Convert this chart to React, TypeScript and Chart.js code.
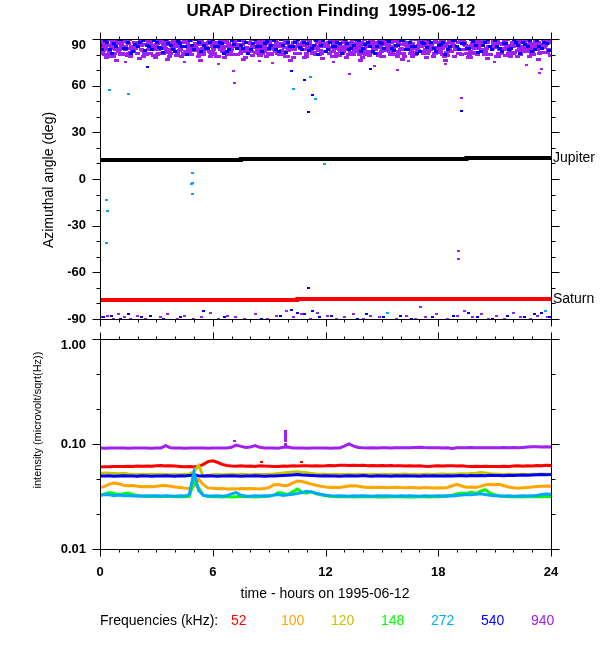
import React, { useEffect, useRef } from 'react';
import { Chart, registerables } from 'chart.js';

Chart.register(...registerables);

const FONT = '"Liberation Sans", Arial, Helvetica, sans-serif';

// ---------- axes / labels ----------
const TIME_TICKS = [0, 6, 12, 18, 24];
const TIME_LABELS = ['0', '6', '12', '18', '24'];
const TIME_MINOR = [1, 2, 3, 4, 5, 7, 8, 9, 10, 11, 13, 14, 15, 16, 17, 19, 20, 21, 22, 23];
const ANGLE_TICKS = [-90, -60, -30, 0, 30, 60, 90];
const ANGLE_LABELS = ['-90', '-60', '-30', '0', '30', '60', '90'];
const ANGLE_MINOR = [-80, -70, -50, -40, -20, -10, 10, 20, 40, 50, 70, 80];
const INT_TICKS = [0.01, 0.1, 1];
const INT_LABELS = ['0.01', '0.10', '1.00'];
const INT_MINOR = [0.0215, 0.0464, 0.215, 0.464];

const FREQ_LABELS = ['52', '100', '120', '148', '272', '540', '940'];
const FREQ_COLORS = ['#ff0000', '#ffa500', '#c4c400', '#00ff00', '#00a8ff', '#0000ff', '#a020f0'];

// ---------- top panel: planets ----------
const JUPITER_TIMES = [0, 7.5, 19.5, 24];
const JUPITER_DEG = [12.2, 12.8, 13.5, 13.5];
const SATURN_TIMES = [0, 10.5, 24];
const SATURN_DEG = [-77.8, -77.1, -77.1];

// ---------- top panel: 940 kHz / 540 kHz band near +90 (sampled every 0.25 h, rows offset) ----------
const BAND_STEP = 0.25;
const P940_ROW_OFFSETS = [0, 0.028, 0.056, 0.083, 0.111, 0.139, 0.167, 0.194, 0.222];
const P940_ROW1 = [
  88, 83, 86, 81, 89, 84, 87, 82, 85, 90, 80, 86,
  83, 88, 84, 81, 87, 85, 89, 82, 86, 83, 80, 88,
  85, 87, 82, 89, 84, 86, 81, 88, 83, 85, 90, 82,
  87, 84, 86, 80, 89, 83, 85, 88, 81, 86, 84, 87,
  82, 89, 85, 83, 88, 80, 86, 84, 87, 81, 89, 85,
  82, 88, 84, 86, 83, 87, 81, 85, 89, 82, 86, 84,
  88, 80, 85, 87, 83, 89, 81, 86, 84, 88, 82, 85,
  87, 83, 89, 84, 81, 86, 88, 82, 85, 87, 84, 89,
];
const P940_ROW2 = [
  84.5, 89.5, 81.5, 86.5, 83.5, 88.5, 80.5, 85.5, 87.5, 82.5, 89, 84.5,
  86.5, 81, 88.5, 83.5, 85, 87.5, 82, 89.5, 84, 86.5, 81.5, 87,
  83, 88, 85.5, 80, 86, 89, 82.5, 84.5, 87, 81.5, 88.5, 85,
  89.5, 83, 86.5, 82, 84, 88, 81, 87.5, 85.5, 83.5, 89, 80.5,
  86, 84.5, 88.5, 82, 85, 87, 83.5, 89.5, 81, 86.5, 84, 88,
  82.5, 85.5, 87.5, 80, 89, 83, 86, 84.5, 88, 81.5, 85, 87.5,
  83.5, 89, 82, 86.5, 84, 88.5, 81, 85.5, 87, 83, 89.5, 80,
  86, 84, 88, 82.5, 85, 87.5, 83, 89, 81.5, 86.5, 84.5, 88.5,
];
const P940_ROW3 = [
  81, 85, 79, 83, 87, 80, 84, 82, 86, 78.5, 83, 85.5,
  80, 84, 82.5, 86, 79.5, 83.5, 81, 85, 87, 80.5, 84.5, 82,
  86.5, 79, 83, 81.5, 85, 80, 84, 87.5, 82, 85.5, 79.5, 83,
  81, 86, 80, 84.5, 82.5, 78, 85, 83.5, 87, 81, 84, 80.5,
  86, 82, 79, 85, 83, 81.5, 87, 80, 84, 82, 86.5, 79.5,
  83, 85, 81, 78.5, 84, 86, 82.5, 80, 85.5, 83, 87, 81,
  84.5, 79, 82, 86, 80.5, 83.5, 85, 81, 87.5, 82, 84, 80,
  86, 83, 79.5, 85, 81.5, 84, 82, 86.5, 80, 83, 85, 81.5,
];
const P940_ROW4 = [
  89, 87, 90, 86, 88.5, 85.5, 89.5, 87.5, 86, 90, 88, 85,
  87, 89.5, 86.5, 88, 90, 85.5, 87.5, 89, 86, 88.5, 85, 89.5,
  88, 86, 90, 87, 85.5, 89, 86.5, 88, 90, 87.5, 85, 88.5,
  86, 89, 87, 90, 85.5, 88, 86.5, 89.5, 87, 85, 88, 90,
  86.5, 87.5, 89, 85, 88.5, 86, 90, 87, 89.5, 85.5, 88, 86,
  89, 87, 85, 90, 86.5, 88, 89.5, 85.5, 87, 88.5, 86, 90,
  87.5, 85, 89, 86, 88, 90, 85.5, 87, 89.5, 86.5, 88, 85,
  90, 87, 88.5, 86, 89, 85.5, 87.5, 90, 86, 88, 89.5, 87,
];
const P940_ROW5 = [
  82, 78, 84, 76.5, 80, 83, 79, 85, 77.5, 81, 86, 79.5,
  83, 80.5, 77, 84, 81.5, 78.5, 85, 80, 82.5, 76, 83.5, 79,
  81, 84.5, 78, 82, 80, 86, 77, 83, 79.5, 81.5, 84, 78.5,
  80, 82, 85, 79, 76.5, 83, 81, 78, 84, 80.5, 82.5, 77.5,
  85, 79, 81, 83.5, 78, 80, 84, 76, 82, 79.5, 86, 81,
  78.5, 83, 80, 82, 77, 84.5, 79, 81.5, 85, 78, 83, 80.5,
  82, 76.5, 84, 79, 81, 83, 78, 85.5, 80, 82, 77.5, 84,
  79, 81, 83, 78.5, 86, 80, 82, 79, 84, 77, 81.5, 83,
];
const P940_ROW6 = [
  85.5, 80, 88, 83, 86.5, 89, 81.5, 84, 87, 82, 89.5, 85,
  81, 86, 83.5, 88.5, 80.5, 85, 87.5, 82.5, 84, 89, 86, 81.5,
  88, 83, 85.5, 80, 87, 84.5, 89.5, 82, 86, 83.5, 81, 88,
  84, 87.5, 82.5, 89, 85, 80.5, 86.5, 83, 88.5, 81.5, 85.5, 87,
  83, 89, 84.5, 81, 86, 88, 82, 85, 80, 87.5, 83.5, 89.5,
  86.5, 82, 84, 88, 81, 85.5, 87, 83, 89, 80.5, 86, 84.5,
  81.5, 87, 85, 89.5, 83, 86.5, 80, 88, 84, 82.5, 87.5, 85.5,
  88.5, 83.5, 86, 81, 89, 84, 82, 87, 85, 80.5, 88, 83,
];
const P940_ROW7 = [
  87, 90, 85, 88.5, 86, 89.5, 84.5, 87.5, 90, 86.5, 88, 85.5,
  89, 86, 87.5, 84, 90, 88, 85.5, 89.5, 86.5, 87, 84.5, 88.5,
  86, 89, 87.5, 85, 90, 86.5, 88, 84, 89.5, 87, 85.5, 88,
  90, 85, 87, 89, 86, 88.5, 84.5, 90, 87.5, 86, 89, 85.5,
  88, 86.5, 90, 84, 87, 89.5, 85.5, 88, 86, 90, 87.5, 84.5,
  89, 85, 88.5, 86.5, 90, 87, 84, 89.5, 86, 88, 85.5, 87.5,
  90, 86, 88, 85, 89, 87.5, 84.5, 90, 86.5, 88.5, 85, 89,
  87, 84, 89.5, 86, 88, 90, 85.5, 87, 89, 86.5, 84.5, 88,
];
const P940_ROW8 = [
  82.5, 86, 89, 84, 81, 87.5, 85, 88, 83, 86.5, 80.5, 89,
  84.5, 87, 82, 85.5, 88.5, 81, 86, 83.5, 89.5, 84, 87, 80,
  86, 83, 88.5, 81.5, 85, 89, 82, 87.5, 84.5, 80.5, 86.5, 83,
  89, 85.5, 81, 87, 83.5, 88, 84, 86, 82.5, 89.5, 80, 85,
  87.5, 82, 86, 89, 84.5, 81.5, 88, 83, 85.5, 87, 81, 86.5,
  83, 88.5, 85, 80.5, 87, 84, 89.5, 82.5, 86, 81, 88, 84.5,
  85, 81.5, 87.5, 83, 89, 86, 82, 84, 88.5, 80, 85.5, 87,
  81, 86.5, 84, 88, 82.5, 85, 89, 83.5, 87, 81.5, 86, 88.5,
];
const P940_ROW9 = [
  80, 83.5, 78.5, 82, 85, 79.5, 84, 81, 86, 80.5, 83, 78,
  84.5, 81.5, 79, 85.5, 82.5, 80, 83, 86, 78.5, 81, 84, 82,
  79, 85, 81.5, 83.5, 80, 86, 78, 82.5, 84.5, 79.5, 83, 81,
  85, 80.5, 82, 78.5, 84, 81, 86, 79, 83.5, 80, 82.5, 85.5,
  81, 84, 79.5, 82, 86, 80, 83, 78, 85, 81.5, 84.5, 79,
  82.5, 80, 85.5, 83, 79, 84, 81, 86, 80.5, 82, 78.5, 83.5,
  84, 79.5, 82, 85, 80, 83.5, 78, 81.5, 86, 82.5, 80, 84.5,
  79, 83, 81, 85.5, 78.5, 82, 84, 80, 83, 86, 81.5, 79.5,
];
const B540_ROW_OFFSETS = [0.014, 0.125];
const B540_ROW1 = [
  86, 89, 83, 87, 90, 84, 88, 82, 85, 89, 86, 83,
  88, 84, 90, 86, 82, 87, 85, 89, 83, 88, 86, 84,
  90, 85, 87, 82, 89, 84, 86, 88, 83, 90, 85, 87,
  84, 89, 82, 86, 88, 85, 90, 83, 87, 84, 89, 86,
  82, 88, 85, 87, 90, 83, 86, 89, 84, 88, 82, 85,
  87, 90, 84, 86, 89, 83, 88, 85, 82, 87, 90, 84,
  86, 88, 83, 89, 85, 87, 84, 90, 86, 82, 88, 85,
  89, 84, 87, 83, 90, 86, 88, 85, 82, 89, 84, 87,
];
const B540_ROW2 = [
  83.5, 87.5, 81, 85.5, 89.5, 84, 80.5, 86.5, 88, 82.5, 85, 89,
  84.5, 81.5, 87, 83, 88.5, 85.5, 80, 86, 89.5, 82, 84, 87.5,
  85, 88, 81, 83.5, 86.5, 89, 84, 80.5, 87, 85.5, 82, 88.5,
  86, 83, 89.5, 81.5, 85, 87.5, 84.5, 88, 82.5, 86, 80, 89,
  83, 85.5, 88, 81, 87, 84, 89.5, 82, 86.5, 85, 80.5, 87.5,
  84, 88.5, 82.5, 86, 89, 83.5, 85, 81, 87.5, 84.5, 88, 82,
  86.5, 80, 85, 89, 83, 87, 84, 88.5, 81.5, 86, 89.5, 83,
  85.5, 82, 87, 84, 88, 81, 86.5, 89, 83.5, 85, 87.5, 82.5,
];

// ---------- top panel: points near -90 and isolated points ----------
const P940_LOW_TIMES = [0.1, 0.4, 0.7, 1.0, 1.3, 1.6, 2.0, 2.4, 3.2, 3.6, 4.1, 4.5, 5.0, 5.4, 5.9, 6.3, 6.8, 7.2, 7.7, 8.3, 8.9, 9.4, 9.9, 10.3, 10.7, 11.2, 11.6, 12.1, 12.6, 13.0, 13.5, 14.0, 14.4, 14.9, 15.3, 15.8, 16.3, 16.8, 17.3, 17.9, 18.5, 19.0, 19.4, 19.8, 20.3, 20.7, 21.1, 21.5, 22.0, 22.4, 22.9, 23.3, 23.8];
const P940_LOW_DEG = [-89, -88, -90, -87, -89, -90, -88, -90, -89, -87, -90, -88, -90, -89, -86, -90, -88, -89, -90, -87, -90, -88, -85, -89, -87, -90, -86, -88, -90, -89, -87, -90, -88, -89, -86, -90, -88, -90, -89, -87, -90, -88, -85, -89, -87, -90, -88, -90, -86, -89, -90, -88, -89];
const B540_LOW_TIMES = [0.2, 0.6, 1.1, 1.5, 2.2, 2.7, 3.4, 4.3, 5.5, 6.6, 8.6, 9.6, 10.2, 10.5, 10.9, 11.3, 11.7, 12.3, 13.7, 14.2, 15.1, 16.0, 16.6, 17.7, 18.8, 19.6, 20.1, 20.9, 21.7, 22.6, 23.1, 23.5, 23.9];
const B540_LOW_DEG = [-89, -88, -90, -87, -89, -88, -90, -89, -85, -89, -90, -88, -84, -86, -87, -85, -89, -88, -90, -87, -89, -88, -90, -89, -88, -86, -89, -90, -88, -89, -87, -86, -89];
const P940_ODD_TIMES = [7.16, 7.1, 13.3, 15.83, 23.4, 19.26, 19.08, 19.08, 17.07, 1.35, 4.5, 6.3, 8.5, 9.2, 12.4, 14.6, 16.4, 18.4, 21.0, 22.7, 23.5];
const P940_ODD_DEG = [61.9, 69.5, 67.5, 70.0, 68.3, 52.3, -46.3, -51.6, -82.3, 75, 75, 74, 76, 74.5, 75, 72.5, 76, 74, 75.5, 73.5, 71];
const B540_ODD_TIMES = [2.53, 10.2, 10.9, 11.33, 11.1, 19.26, 11.1, 14.4, 5.53];
const B540_ODD_DEG = [71.8, 69.2, 63.8, 54.0, 43.3, 43.7, -69.9, 70.7, -84.9];
const C272_ODD_TIMES = [0.32, 0.42, 0.32, 0.51, 1.5, 4.92, 4.92, 4.88, 4.9, 10.3, 11.18, 11.46, 11.97, 15.3, 23.7];
const C272_ODD_DEG = [-13.5, -20.6, -41.4, 57.0, 54.8, 4.1, -2.4, -3.0, -9.6, 57.9, 65.6, 51.4, 9.6, -86, -85];

// ---------- bottom panel: intensities, every 0.25 h from 0 to 24 ----------
const LINE_STEP = 0.25;
const I52 = [
  0.0605, 0.0608, 0.0606, 0.0610, 0.0612, 0.0609, 0.0614, 0.0611, 0.0616, 0.0613, 0.0618, 0.0615,
  0.0620, 0.0625, 0.0619, 0.0622, 0.0617, 0.0612, 0.0608, 0.0611, 0.0608, 0.0612, 0.0640, 0.0680,
  0.0692, 0.0670, 0.0640, 0.0625, 0.0618, 0.0615, 0.0619, 0.0613, 0.0617, 0.0612, 0.0620, 0.0616,
  0.0614, 0.0610, 0.0612, 0.0618, 0.0615, 0.0620, 0.0617, 0.0622, 0.0619, 0.0616, 0.0621, 0.0618,
  0.0620, 0.0624, 0.0622, 0.0626, 0.0628, 0.0625, 0.0627, 0.0623, 0.0626, 0.0622, 0.0625, 0.0621,
  0.0624, 0.0620, 0.0623, 0.0619, 0.0622, 0.0618, 0.0621, 0.0617, 0.0620, 0.0615, 0.0612, 0.0618,
  0.0620, 0.0616, 0.0619, 0.0622, 0.0618, 0.0621, 0.0614, 0.0611, 0.0615, 0.0610, 0.0613, 0.0609,
  0.0612, 0.0610, 0.0614, 0.0611, 0.0616, 0.0619, 0.0615, 0.0621, 0.0618, 0.0624, 0.0622, 0.0626,
  0.0625,
];
const I100 = [
  0.0385, 0.0395, 0.0415, 0.0424, 0.0418, 0.0405, 0.0400, 0.0402, 0.0396, 0.0392, 0.0394, 0.0391,
  0.0395, 0.0400, 0.0402, 0.0396, 0.0390, 0.0386, 0.0380, 0.0377, 0.0395, 0.0460, 0.0410, 0.0382,
  0.0378, 0.0374, 0.0376, 0.0373, 0.0375, 0.0372, 0.0376, 0.0374, 0.0377, 0.0375, 0.0373, 0.0376,
  0.0385, 0.0410, 0.0412, 0.0400, 0.0405, 0.0425, 0.0445, 0.0440, 0.0428, 0.0415, 0.0405, 0.0396,
  0.0390, 0.0386, 0.0388, 0.0385, 0.0392, 0.0398, 0.0400, 0.0395, 0.0389, 0.0386, 0.0388, 0.0385,
  0.0387, 0.0384, 0.0386, 0.0388, 0.0385, 0.0383, 0.0386, 0.0384, 0.0382, 0.0385, 0.0383, 0.0381,
  0.0384, 0.0382, 0.0386, 0.0400, 0.0412, 0.0398, 0.0388, 0.0390, 0.0386, 0.0395, 0.0408, 0.0413,
  0.0410, 0.0414, 0.0400, 0.0390, 0.0384, 0.0380, 0.0383, 0.0386, 0.0389, 0.0393, 0.0396, 0.0398,
  0.0395,
];
const I120 = [
  0.0525, 0.0530, 0.0528, 0.0524, 0.0520, 0.0526, 0.0518, 0.0515, 0.0513, 0.0516, 0.0512, 0.0514,
  0.0511, 0.0515, 0.0513, 0.0510, 0.0512, 0.0509, 0.0514, 0.0516, 0.0545, 0.0625, 0.0490, 0.0505,
  0.0510, 0.0513, 0.0509, 0.0512, 0.0514, 0.0511, 0.0515, 0.0512, 0.0510, 0.0514, 0.0511, 0.0513,
  0.0515, 0.0518, 0.0524, 0.0530, 0.0535, 0.0540, 0.0545, 0.0538, 0.0532, 0.0525, 0.0519, 0.0516,
  0.0514, 0.0512, 0.0515, 0.0513, 0.0511, 0.0514, 0.0512, 0.0516, 0.0513, 0.0511, 0.0514, 0.0512,
  0.0515, 0.0513, 0.0516, 0.0512, 0.0514, 0.0517, 0.0513, 0.0515, 0.0512, 0.0514, 0.0516, 0.0513,
  0.0515, 0.0518, 0.0514, 0.0516, 0.0519, 0.0521, 0.0518, 0.0524, 0.0528, 0.0535, 0.0530, 0.0522,
  0.0518, 0.0515, 0.0513, 0.0516, 0.0514, 0.0512, 0.0515, 0.0513, 0.0516, 0.0514, 0.0517, 0.0515,
  0.0516,
];
const I148 = [
  0.0320, 0.0335, 0.0345, 0.0338, 0.0328, 0.0336, 0.0342, 0.0330, 0.0322, 0.0318, 0.0316, 0.0319,
  0.0317, 0.0315, 0.0318, 0.0316, 0.0314, 0.0317, 0.0315, 0.0318, 0.0440, 0.0380, 0.0325, 0.0316,
  0.0314, 0.0317, 0.0313, 0.0316, 0.0312, 0.0315, 0.0318, 0.0314, 0.0316, 0.0313, 0.0315, 0.0317,
  0.0319, 0.0326, 0.0345, 0.0338, 0.0330, 0.0350, 0.0372, 0.0348, 0.0340, 0.0352, 0.0335, 0.0328,
  0.0322, 0.0318, 0.0315, 0.0317, 0.0314, 0.0316, 0.0313, 0.0315, 0.0317, 0.0314, 0.0316, 0.0313,
  0.0315, 0.0312, 0.0316, 0.0314, 0.0317, 0.0313, 0.0315, 0.0312, 0.0314, 0.0316, 0.0313, 0.0315,
  0.0314, 0.0316, 0.0319, 0.0325, 0.0335, 0.0342, 0.0338, 0.0348, 0.0336, 0.0355, 0.0368, 0.0340,
  0.0328, 0.0320, 0.0316, 0.0314, 0.0317, 0.0315, 0.0313, 0.0316, 0.0314, 0.0317, 0.0315, 0.0318,
  0.0316,
];
const I272 = [
  0.0325, 0.0330, 0.0328, 0.0322, 0.0326, 0.0321, 0.0324, 0.0320, 0.0322, 0.0319, 0.0321, 0.0320,
  0.0322, 0.0319, 0.0321, 0.0320, 0.0318, 0.0321, 0.0319, 0.0330, 0.0540, 0.0360, 0.0325, 0.0320,
  0.0319, 0.0321, 0.0318, 0.0322, 0.0335, 0.0345, 0.0325, 0.0320, 0.0318, 0.0321, 0.0319, 0.0322,
  0.0320, 0.0326, 0.0330, 0.0324, 0.0328, 0.0333, 0.0338, 0.0345, 0.0355, 0.0348, 0.0340, 0.0332,
  0.0325, 0.0321, 0.0319, 0.0322, 0.0320, 0.0318, 0.0321, 0.0319, 0.0322, 0.0320, 0.0318, 0.0321,
  0.0319, 0.0322, 0.0320, 0.0318, 0.0321, 0.0319, 0.0322, 0.0320, 0.0318, 0.0321, 0.0319, 0.0320,
  0.0322, 0.0319, 0.0321, 0.0320, 0.0323, 0.0326, 0.0330, 0.0328, 0.0332, 0.0335, 0.0330, 0.0325,
  0.0322, 0.0320, 0.0319, 0.0321, 0.0318, 0.0320, 0.0322, 0.0319, 0.0321, 0.0323, 0.0330, 0.0334,
  0.0332,
];
const I540 = [
  0.0497, 0.0495, 0.0498, 0.0494, 0.0496, 0.0499, 0.0495, 0.0497, 0.0494, 0.0498, 0.0496, 0.0493,
  0.0497, 0.0495, 0.0499, 0.0496, 0.0494, 0.0498, 0.0495, 0.0500, 0.0510, 0.0497, 0.0495, 0.0498,
  0.0496, 0.0494, 0.0497, 0.0495, 0.0498, 0.0496, 0.0493, 0.0497, 0.0495, 0.0499, 0.0496, 0.0494,
  0.0497, 0.0495, 0.0499, 0.0502, 0.0505, 0.0508, 0.0512, 0.0506, 0.0503, 0.0500, 0.0498, 0.0496,
  0.0498, 0.0495, 0.0497, 0.0494, 0.0496, 0.0499, 0.0495, 0.0497, 0.0500, 0.0496, 0.0494, 0.0498,
  0.0495, 0.0497, 0.0494, 0.0498, 0.0496, 0.0499, 0.0495, 0.0497, 0.0494, 0.0498, 0.0496, 0.0499,
  0.0497, 0.0495, 0.0498, 0.0496, 0.0499, 0.0502, 0.0497, 0.0500, 0.0498, 0.0501, 0.0499, 0.0503,
  0.0500, 0.0502, 0.0499, 0.0503, 0.0501, 0.0504, 0.0506, 0.0503, 0.0507, 0.0509, 0.0512, 0.0510,
  0.0513,
];
const I940 = [
  0.0915, 0.0913, 0.0916, 0.0914, 0.0917, 0.0915, 0.0913, 0.0916, 0.0914, 0.0917, 0.0915, 0.0913,
  0.0916, 0.0918, 0.0965, 0.0920, 0.0914, 0.0916, 0.0913, 0.0915, 0.0917, 0.0914, 0.0916, 0.0913,
  0.0915, 0.0917, 0.0914, 0.0916, 0.0930, 0.0975, 0.0950, 0.0925, 0.0935, 0.0965, 0.0930, 0.0916,
  0.0914, 0.0916, 0.0913, 0.0930, 0.0935, 0.0918, 0.0914, 0.0916, 0.0913, 0.0915, 0.0917, 0.0914,
  0.0916, 0.0913, 0.0915, 0.0917, 0.0955, 0.1000, 0.0955, 0.0925, 0.0920, 0.0918, 0.0921, 0.0917,
  0.0919, 0.0922, 0.0918, 0.0921, 0.0919, 0.0923, 0.0920, 0.0925, 0.0930, 0.0924, 0.0921, 0.0923,
  0.0920, 0.0918, 0.0921, 0.0908, 0.0919, 0.0922, 0.0920, 0.0924, 0.0921, 0.0919, 0.0922, 0.0920,
  0.0923, 0.0921, 0.0924, 0.0922, 0.0925, 0.0923, 0.0928, 0.0935, 0.0940, 0.0942, 0.0938, 0.0940,
  0.0938,
];
const I940_DOT_TIMES = [9.85, 9.85, 9.85, 9.85, 9.85, 9.85, 9.85, 9.85, 9.85, 7.15];
const I940_DOT_VALUES = [0.133, 0.129, 0.125, 0.121, 0.116, 0.112, 0.106, 0.101, 0.097, 0.107];
const I52_DOT_TIMES = [8.6, 10.7];
const I52_DOT_VALUES = [0.067, 0.067];

// ---------- helpers ----------
const pairs = (xs: number[], ys: number[]) => xs.map((x, i) => ({ x, y: ys[i] }));
const bandRow = (vals: number[], offset: number) => vals.map((y, i) => ({ x: i * BAND_STEP + offset, y }));
const series = (vals: number[]) => vals.map((y, i) => ({ x: i * LINE_STEP, y }));

const framePlugin = {
  id: 'frame',
  afterDatasetsDraw(chart: any, _args: any, opts: any) {
    const { ctx, chartArea: a } = chart;
    const xs = chart.scales.x;
    const ys = chart.scales.y;
    const L = Math.round(a.left) + 0.5;
    const R = Math.round(a.right) + 0.5;
    const T = Math.round(a.top) + 0.5;
    const B = Math.round(a.bottom) + 0.5;
    ctx.save();
    ctx.strokeStyle = '#000';
    ctx.lineWidth = 1;
    ctx.beginPath();
    ctx.rect(L, T, R - L, B - T);
    const xGroups = [[opts.xMajor, opts.xMajorLen], [opts.xMinor, opts.xMinorLen]];
    for (const [vals, len] of xGroups) {
      for (const v of vals) {
        const px = Math.round(xs.getPixelForValue(v)) + 0.5;
        ctx.moveTo(px, B); ctx.lineTo(px, B + len);
        ctx.moveTo(px, T); ctx.lineTo(px, T - len);
      }
    }
    const yGroups = [[opts.yMajor, opts.yMajorLen], [opts.yMinor, opts.yMinorLen]];
    for (const [vals, len] of yGroups) {
      for (const v of vals) {
        const py = Math.round(ys.getPixelForValue(v)) + 0.5;
        ctx.moveTo(L, py); ctx.lineTo(L - len, py);
        ctx.moveTo(R, py); ctx.lineTo(R + len, py);
      }
    }
    ctx.stroke();
    if (opts.sideLabels) {
      ctx.fillStyle = '#000';
      ctx.font = `14px ${FONT}`;
      ctx.textAlign = 'left';
      ctx.textBaseline = 'middle';
      for (const s of opts.sideLabels) {
        ctx.fillText(s.text, a.right + 2, ys.getPixelForValue(s.value));
      }
    }
    ctx.restore();
  },
};

const tickFont = { family: FONT, size: 13, weight: 'bold' as const, lineHeight: 1 };

const fixY = (s: any) => { s.width = 100; s.paddingTop = 0; s.paddingBottom = 0; };
const fixX = (h: number) => (s: any) => { s.height = h; s.paddingLeft = 0; s.paddingRight = 0; };

export default function App() {
  const topRef = useRef<HTMLCanvasElement>(null);
  const botRef = useRef<HTMLCanvasElement>(null);

  useEffect(() => {
    const dash = (color: string, w: number, h: number) => {
      const c = document.createElement('canvas');
      c.width = w;
      c.height = h;
      const g = c.getContext('2d')!;
      g.fillStyle = color;
      g.fillRect(0, 0, w, h);
      return c;
    };
    const C52 = FREQ_COLORS[0];
    const C100 = FREQ_COLORS[1];
    const C120 = FREQ_COLORS[2];
    const C148 = FREQ_COLORS[3];
    const C272 = FREQ_COLORS[4];
    const C540 = FREQ_COLORS[5];
    const C940 = FREQ_COLORS[6];

    const scatterDs = (data: any[], color: string, w = 3, h = 2) => ({
      type: 'scatter' as const,
      data,
      pointStyle: dash(color, w, h),
      pointRadius: 2,
      pointBackgroundColor: color,
      pointBorderWidth: 0,
      showLine: false,
    });

    const p940Rows = [P940_ROW1, P940_ROW2, P940_ROW3, P940_ROW4, P940_ROW5, P940_ROW6, P940_ROW7, P940_ROW8, P940_ROW9];
    const p940Band = p940Rows.flatMap((row, k) => bandRow(row, P940_ROW_OFFSETS[k]));
    const p940Other = [
      ...pairs(P940_LOW_TIMES, P940_LOW_DEG),
      ...pairs(P940_ODD_TIMES, P940_ODD_DEG),
    ];
    const b540Band = [
      ...bandRow(B540_ROW1, B540_ROW_OFFSETS[0]),
      ...bandRow(B540_ROW2, B540_ROW_OFFSETS[1]),
    ];
    const b540Other = [
      ...pairs(B540_LOW_TIMES, B540_LOW_DEG),
      ...pairs(B540_ODD_TIMES, B540_ODD_DEG),
    ];
    const c272Data = pairs(C272_ODD_TIMES, C272_ODD_DEG);

    const top = new Chart(topRef.current!, {
      type: 'scatter',
      data: {
        datasets: [
          {
            type: 'line',
            data: pairs(JUPITER_TIMES, JUPITER_DEG),
            borderColor: '#000000',
            borderWidth: 4,
            pointRadius: 0,
            stepped: true,
          } as any,
          {
            type: 'line',
            data: pairs(SATURN_TIMES, SATURN_DEG),
            borderColor: '#ff0000',
            borderWidth: 4,
            pointRadius: 0,
            stepped: true,
          } as any,
          scatterDs(c272Data, C272),
          scatterDs(b540Other, C540),
          scatterDs(p940Other, C940),
          scatterDs(b540Band, C540, 4, 3),
          scatterDs(p940Band, C940, 5, 3),
        ],
      },
      options: {
        responsive: false,
        animation: false,
        events: [],
        layout: { padding: { left: 0, right: 49, top: 39, bottom: 11 } },
        plugins: {
          legend: { display: false },
          tooltip: { enabled: false },
          title: { display: false },
          frame: {
            xMajor: TIME_TICKS, xMajorLen: 7, xMinor: TIME_MINOR, xMinorLen: 3,
            yMajor: ANGLE_TICKS, yMajorLen: 8, yMinor: ANGLE_MINOR, yMinorLen: 4,
            sideLabels: [
              { text: 'Jupiter', value: JUPITER_DEG[JUPITER_DEG.length - 1] },
              { text: 'Saturn', value: SATURN_DEG[SATURN_DEG.length - 1] },
            ],
          },
        } as any,
        scales: {
          x: { type: 'linear', min: 0, max: 24, display: false },
          y: {
            type: 'linear',
            min: -90,
            max: 90,
            afterBuildTicks: (s: any) => { s.ticks = ANGLE_TICKS.map((value) => ({ value })); },
            afterFit: fixY,
            grid: { display: false, drawTicks: false },
            border: { display: false },
            ticks: {
              autoSkip: false,
              padding: 14,
              color: '#000',
              font: tickFont,
              callback: (_v: any, i: number) => (i === ANGLE_LABELS.length - 1 ? ['', ANGLE_LABELS[i]] : ANGLE_LABELS[i]),
            },
          },
        },
      },
      plugins: [framePlugin],
    } as any);

    const lineDs = (vals: number[], color: string) => ({
      type: 'line' as const,
      data: series(vals),
      borderColor: color,
      borderWidth: 3,
      pointRadius: 0,
      tension: 0,
      fill: false,
    });

    const bot = new Chart(botRef.current!, {
      type: 'line',
      data: {
        datasets: [
          scatterDs(pairs(I940_DOT_TIMES, I940_DOT_VALUES), C940),
          scatterDs(pairs(I52_DOT_TIMES, I52_DOT_VALUES), C52),
          lineDs(I272, C272),
          lineDs(I148, C148),
          lineDs(I100, C100),
          lineDs(I540, C540),
          lineDs(I120, C120),
          lineDs(I52, C52),
          lineDs(I940, C940),
        ],
      },
      options: {
        responsive: false,
        animation: false,
        events: [],
        layout: { padding: { left: 0, right: 49, top: 9, bottom: 0 } },
        plugins: {
          legend: { display: false },
          tooltip: { enabled: false },
          title: { display: false },
          frame: {
            xMajor: TIME_TICKS, xMajorLen: 7, xMinor: TIME_MINOR, xMinorLen: 3,
            yMajor: INT_TICKS, yMajorLen: 8, yMinor: INT_MINOR, yMinorLen: 4,
          },
        } as any,
        scales: {
          x: {
            type: 'linear',
            min: 0,
            max: 24,
            afterBuildTicks: (s: any) => { s.ticks = TIME_TICKS.map((value) => ({ value })); },
            afterFit: fixX(101),
            grid: { display: false, drawTicks: false },
            border: { display: false },
            ticks: {
              autoSkip: false,
              maxRotation: 0,
              padding: 17,
              color: '#000',
              font: tickFont,
              callback: (_v: any, i: number) => TIME_LABELS[i],
            },
          },
          y: {
            type: 'logarithmic',
            min: 0.01,
            max: 1,
            afterBuildTicks: (s: any) => { s.ticks = INT_TICKS.map((value) => ({ value })); },
            afterFit: fixY,
            grid: { display: false, drawTicks: false },
            border: { display: false },
            ticks: {
              autoSkip: false,
              padding: 14,
              color: '#000',
              font: tickFont,
              callback: (_v: any, i: number) => (i === INT_LABELS.length - 1 ? ['', INT_LABELS[i]] : INT_LABELS[i]),
            },
          },
        },
      },
      plugins: [framePlugin],
    } as any);

    return () => {
      top.destroy();
      bot.destroy();
    };
  }, []);

  const abs = { position: 'absolute' as const, whiteSpace: 'pre' as const, color: '#000' };

  return (
    <div style={{ position: 'absolute', left: 0, top: 0, width: 600, height: 650, background: '#ffffff', fontFamily: FONT, overflow: 'hidden' }}>
      <canvas ref={topRef} width={600} height={330} style={{ position: 'absolute', left: 0, top: 0 }} />
      <canvas ref={botRef} width={600} height={320} style={{ position: 'absolute', left: 0, top: 330 }} />
      <div style={{ ...abs, left: 331, top: 1, transform: 'translateX(-50%)', font: `bold 17px ${FONT}`, lineHeight: '20px' }}>
        URAP Direction Finding  1995-06-12
      </div>
      <div style={{ ...abs, left: 48, top: 180, transform: 'translate(-50%, -50%) rotate(-90deg)', font: `14px ${FONT}`, lineHeight: '16px' }}>
        Azimuthal angle (deg)
      </div>
      <div style={{ ...abs, left: 37, top: 420, transform: 'translate(-50%, -50%) rotate(-90deg)', font: `11px ${FONT}`, lineHeight: '13px' }}>
        intensity (microvolt/sqrt(Hz))
      </div>
      <div style={{ ...abs, left: 325, top: 593, transform: 'translate(-50%, -50%)', font: `14px ${FONT}`, lineHeight: '16px' }}>
        time - hours on 1995-06-12
      </div>
      <div style={{ ...abs, left: 100, top: 620, transform: 'translateY(-50%)', font: `14px ${FONT}`, lineHeight: '16px' }}>
        Frequencies (kHz):
      </div>
      {FREQ_LABELS.map((f, k) => (
        <div key={f} style={{ ...abs, left: 231 + 50 * k, top: 620, transform: 'translateY(-50%)', font: `14px ${FONT}`, lineHeight: '16px', color: FREQ_COLORS[k] }}>
          {f}
        </div>
      ))}
    </div>
  );
}
